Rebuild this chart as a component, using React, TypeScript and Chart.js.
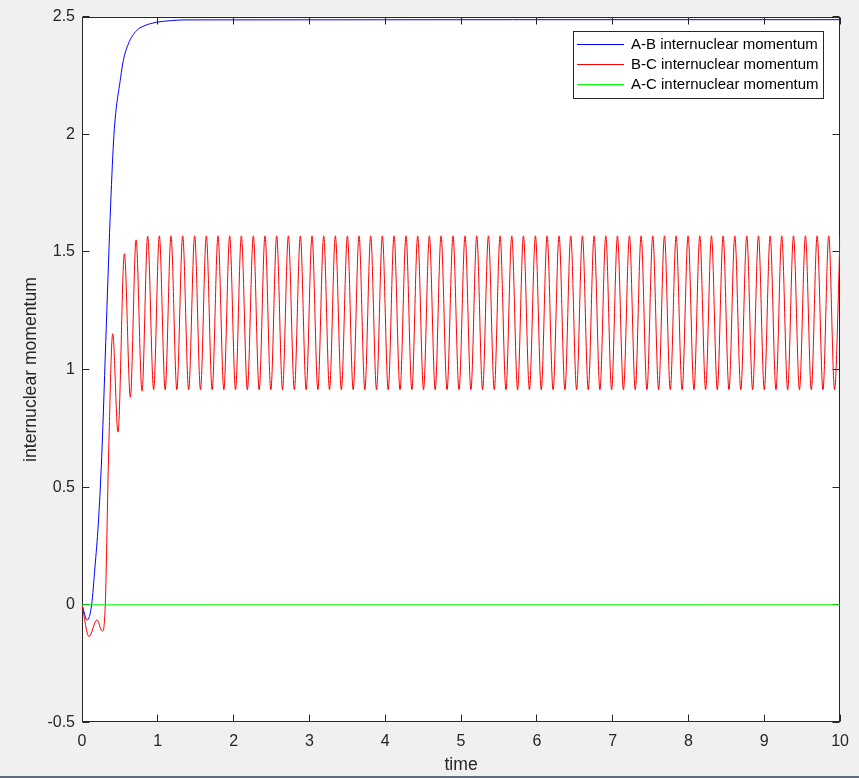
import React, { useEffect, useRef } from "react";
import { Chart, registerables } from "chart.js";

Chart.register(...registerables);

// ---------- axes ----------
const xTickValues = [0, 1, 2, 3, 4, 5, 6, 7, 8, 9, 10];
const xTickLabels = ["0", "1", "2", "3", "4", "5", "6", "7", "8", "9", "10"];
const yTickValues = [-0.5, 0, 0.5, 1, 1.5, 2, 2.5];
const yTickLabels = ["-0.5", "0", "0.5", "1", "1.5", "2", "2.5"];
const xTitle = "time";
const yTitle = "internuclear momentum";

// ---------- series ----------
const seriesLabels = [
  "A-B internuclear momentum",
  "B-C internuclear momentum",
  "A-C internuclear momentum",
];
const seriesColors = ["#0000ff", "#ff0000", "#00ff00"];

// A-B (blue)
const abTime = [0, 0.07, 0.127, 0.171, 0.215, 0.26, 0.321, 0.378, 0.422, 0.51, 0.545, 0.611, 0.721, 0.831, 0.985, 1.18, 1.36, 10];
const abMomentum = [0, -0.065, 0, 0.16, 0.344, 0.63, 1.19, 1.7, 2.0, 2.242, 2.313, 2.384, 2.441, 2.462, 2.476, 2.483, 2.486, 2.487];

// B-C (red) – early transient
const bcEarlyTime = [0, 0.092, 0.198, 0.268, 0.307, 0.352, 0.405, 0.475, 0.559, 0.638, 0.713, 0.792, 0.866, 0.945];
const bcEarlyMomentum = [0, -0.135, -0.064, -0.113, 0, 0.654, 1.152, 0.734, 1.492, 0.882, 1.551, 0.908, 1.567, 0.914];

// B-C (red) – steady oscillation peaks
const bcPeakTime = [
  1.020, 1.174, 1.328, 1.486, 1.640, 1.794, 1.948, 2.102, 2.260, 2.414,
  2.568, 2.722, 2.880, 3.034, 3.188, 3.342, 3.501, 3.654, 3.808, 3.962,
  4.116, 4.274, 4.428, 4.582, 4.736, 4.894, 5.053, 5.207, 5.361, 5.515,
  5.669, 5.823, 5.981, 6.135, 6.293, 6.447, 6.601, 6.755, 6.909, 7.063,
  7.221, 7.375, 7.529, 7.683, 7.837, 7.995, 8.149, 8.303, 8.457, 8.611,
  8.769, 8.923, 9.077, 9.230, 9.385, 9.543, 9.697, 9.850, 10.0,
];
const bcPeakMomentum = [
  1.568, 1.568, 1.568, 1.568, 1.568, 1.568, 1.568, 1.568, 1.568, 1.568,
  1.568, 1.568, 1.568, 1.568, 1.568, 1.568, 1.568, 1.568, 1.568, 1.568,
  1.568, 1.568, 1.568, 1.568, 1.568, 1.568, 1.568, 1.568, 1.568, 1.568,
  1.568, 1.568, 1.568, 1.568, 1.568, 1.568, 1.568, 1.568, 1.568, 1.568,
  1.568, 1.568, 1.568, 1.568, 1.568, 1.568, 1.568, 1.568, 1.568, 1.568,
  1.568, 1.568, 1.568, 1.568, 1.568, 1.568, 1.568, 1.568, 1.566,
];

// B-C (red) – steady oscillation troughs
const bcTroughTime = [
  1.097, 1.251, 1.407, 1.563, 1.717, 1.871, 2.025, 2.181, 2.337,
  2.491, 2.645, 2.801, 2.957, 3.111, 3.265, 3.421, 3.577, 3.731, 3.885,
  4.039, 4.195, 4.351, 4.505, 4.659, 4.815, 4.973, 5.130, 5.284, 5.438,
  5.592, 5.746, 5.902, 6.058, 6.214, 6.370, 6.524, 6.678, 6.832, 6.986,
  7.142, 7.298, 7.452, 7.606, 7.760, 7.916, 8.072, 8.226, 8.380, 8.534,
  8.690, 8.846, 9.000, 9.154, 9.308, 9.464, 9.620, 9.774, 9.927,
];
const bcTroughMomentum = [
  0.914, 0.914, 0.914, 0.914, 0.914, 0.914, 0.914, 0.914, 0.914,
  0.914, 0.914, 0.914, 0.914, 0.914, 0.914, 0.914, 0.914, 0.914, 0.914,
  0.914, 0.914, 0.914, 0.914, 0.914, 0.914, 0.914, 0.914, 0.914, 0.914,
  0.914, 0.914, 0.914, 0.914, 0.914, 0.914, 0.914, 0.914, 0.914, 0.914,
  0.914, 0.914, 0.914, 0.914, 0.914, 0.914, 0.914, 0.914, 0.914, 0.914,
  0.914, 0.914, 0.914, 0.914, 0.914, 0.914, 0.914, 0.914, 0.914,
];

// A-C (green)
const acTime = [0, 10];
const acMomentum = [0, 0];

// ---------- helpers ----------
const FONT = '"Liberation Sans", Arial, Helvetica, sans-serif';
const AXIS_COLOR = "#262626";

function zip(t: number[], v: number[]) {
  return t.map((x, i) => ({ x, y: v[i] }));
}

const abPoints = zip(abTime, abMomentum);
const bcPoints = [
  ...zip(bcEarlyTime, bcEarlyMomentum),
  ...zip(bcPeakTime, bcPeakMomentum),
  ...zip(bcTroughTime, bcTroughMomentum),
].sort((a, b) => a.x - b.x);
const acPoints = zip(acTime, acMomentum);

const framePlugin = {
  id: "matlabFrame",
  beforeDraw(chart: any) {
    const { ctx, chartArea: a } = chart;
    ctx.save();
    ctx.fillStyle = "#ffffff";
    ctx.fillRect(a.left, a.top, a.right - a.left, a.bottom - a.top);
    ctx.restore();
  },
  beforeDatasetsDraw(chart: any) {
    const { ctx, chartArea: a, scales } = chart;
    const tl = 7;
    const L = Math.round(a.left) + 0.5;
    const R = Math.round(a.right) - 0.5;
    const T = Math.round(a.top) + 0.5;
    const B = Math.round(a.bottom) - 0.5;
    ctx.save();
    ctx.strokeStyle = AXIS_COLOR;
    ctx.lineWidth = 1;
    ctx.beginPath();
    for (const v of xTickValues) {
      const px = Math.floor(scales.x.getPixelForValue(v)) + 0.5;
      ctx.moveTo(px, B);
      ctx.lineTo(px, B - tl);
      ctx.moveTo(px, T);
      ctx.lineTo(px, T + tl);
    }
    for (const v of yTickValues) {
      const py = Math.floor(scales.y.getPixelForValue(v)) + 0.5;
      ctx.moveTo(L, py);
      ctx.lineTo(L + tl, py);
      ctx.moveTo(R, py);
      ctx.lineTo(R - tl, py);
    }
    ctx.stroke();
    ctx.strokeRect(L, T, R - L, B - T);
    ctx.restore();
  },
  afterDraw(chart: any) {
    const { ctx } = chart;
    const bx = 573.5, by = 31.5, bw = 250, bh = 67;
    ctx.save();
    ctx.fillStyle = "#ffffff";
    ctx.fillRect(bx, by, bw, bh);
    ctx.strokeStyle = AXIS_COLOR;
    ctx.lineWidth = 1;
    ctx.strokeRect(bx, by, bw, bh);
    ctx.font = `15px ${FONT}`;
    ctx.textBaseline = "middle";
    ctx.textAlign = "left";
    seriesLabels.forEach((label, i) => {
      const y = 44.5 + i * 20;
      ctx.strokeStyle = seriesColors[i];
      ctx.beginPath();
      ctx.moveTo(577, y);
      ctx.lineTo(624, y);
      ctx.stroke();
      ctx.fillStyle = "#000000";
      ctx.fillText(label, 631, y + 0.5);
    });
    ctx.restore();
  },
};

export default function App() {
  const canvasRef = useRef<HTMLCanvasElement | null>(null);

  useEffect(() => {
    const canvas = canvasRef.current;
    if (!canvas) return;
    const chart = new Chart(canvas, {
      type: "line",
      data: {
        datasets: [
          {
            label: seriesLabels[0],
            data: abPoints,
            borderColor: seriesColors[0],
            backgroundColor: seriesColors[0],
            borderWidth: 1,
            pointRadius: 0,
            fill: false,
            cubicInterpolationMode: "monotone",
            order: 2,
          },
          {
            label: seriesLabels[1],
            data: bcPoints,
            borderColor: seriesColors[1],
            backgroundColor: seriesColors[1],
            borderWidth: 1,
            pointRadius: 0,
            fill: false,
            cubicInterpolationMode: "monotone",
            order: 1,
          },
          {
            label: seriesLabels[2],
            data: acPoints,
            borderColor: seriesColors[2],
            backgroundColor: seriesColors[2],
            borderWidth: 1,
            pointRadius: 0,
            fill: false,
            order: 0,
          },
        ],
      },
      options: {
        animation: false,
        responsive: false,
        maintainAspectRatio: false,
        devicePixelRatio: 1,
        parsing: false,
        layout: { padding: { left: 0, right: 18, top: 15, bottom: 0 } },
        plugins: {
          legend: { display: false },
          tooltip: { enabled: false },
        },
        scales: {
          x: {
            type: "linear",
            min: 0,
            max: 10,
            afterBuildTicks: (scale: any) => {
              scale.ticks = xTickValues.map((v) => ({ value: v }));
            },
            afterFit: (scale: any) => {
              scale.height = 53.6;
            },
            grid: { display: false, drawTicks: false },
            border: { display: false },
            ticks: {
              autoSkip: false,
              maxRotation: 0,
              padding: 10,
              color: AXIS_COLOR,
              font: { family: FONT, size: 16 },
              callback: (_v: any, i: number) => xTickLabels[i],
            },
            title: {
              display: true,
              text: xTitle,
              color: AXIS_COLOR,
              font: { family: FONT, size: 17.6 },
              padding: { top: 0, bottom: 0 },
            },
          },
          y: {
            type: "linear",
            min: -0.5,
            max: 2.5,
            afterBuildTicks: (scale: any) => {
              scale.ticks = yTickValues.map((v) => ({ value: v }));
            },
            afterFit: (scale: any) => {
              scale.width = 82;
            },
            grid: { display: false, drawTicks: false },
            border: { display: false },
            ticks: {
              autoSkip: false,
              padding: 7,
              color: AXIS_COLOR,
              font: { family: FONT, size: 16 },
              callback: (_v: any, i: number) => yTickLabels[i],
            },
            title: {
              display: true,
              text: yTitle,
              color: AXIS_COLOR,
              font: { family: FONT, size: 17.6 },
              padding: { top: 21, bottom: 0 },
            },
          },
        },
      },
      plugins: [framePlugin],
    } as any);
    return () => chart.destroy();
  }, []);

  return (
    <div
      style={{
        position: "absolute",
        left: 0,
        top: 0,
        width: 859,
        height: 778,
        background: "#f0f0f0",
        overflow: "hidden",
      }}
    >
      <canvas
        ref={canvasRef}
        width={859}
        height={776}
        style={{ display: "block", width: 859, height: 776 }}
      />
      <div
        style={{
          position: "absolute",
          left: 0,
          top: 776,
          width: 859,
          height: 2,
          background: "#5f6e7c",
        }}
      />
    </div>
  );
}
